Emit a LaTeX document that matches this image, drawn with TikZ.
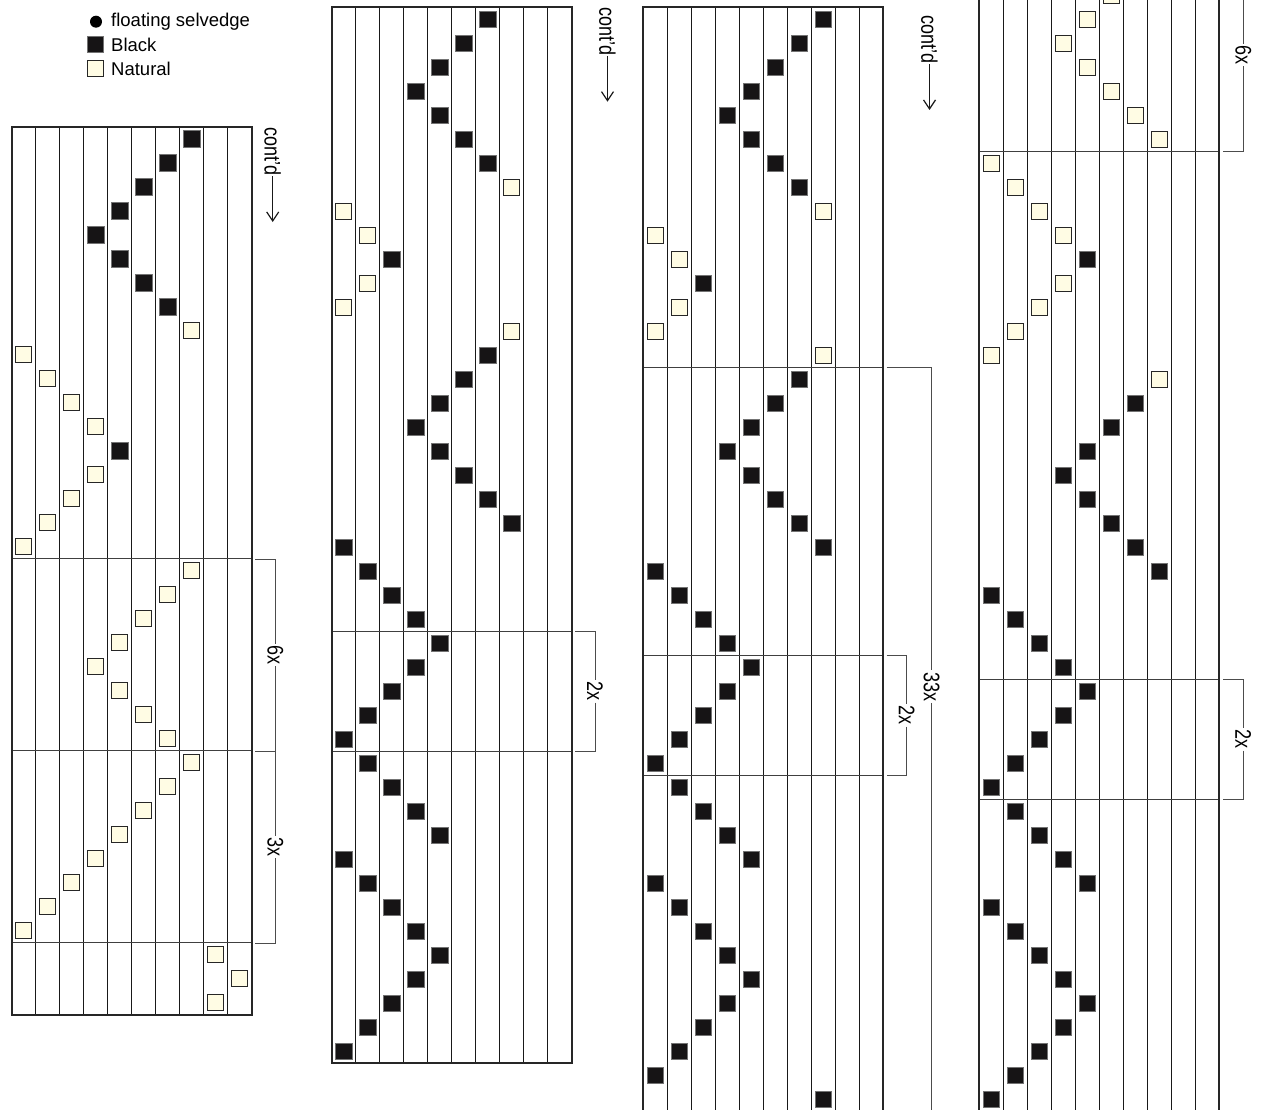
\documentclass[tikz,border=0pt]{standalone}
\usepackage{fontspec}
\setmainfont{Liberation Sans}
\usetikzlibrary{arrows.meta}
\definecolor{natfill}{RGB}{255,252,228}
\definecolor{blkfill}{RGB}{22,20,21}
\begin{document}
\begin{tikzpicture}[x=1pt,y=-1pt,
  sqb/.style={draw=black!55, fill=blkfill, line width=0.6pt, minimum size=16.5pt, inner sep=0pt},
  sqn/.style={draw=black!85, fill=natfill, line width=0.9pt, minimum size=16pt, inner sep=0pt},
  gridline/.style={line width=1.1pt, draw=black!90},
  frameline/.style={line width=2.2pt, draw=black!85},
  sepline/.style={line width=1pt, draw=black!75},
  brk/.style={line width=1pt, draw=black!70},
  lbl/.style={font=\fontsize{18}{18}\selectfont, rotate=-90, yscale=1.25, inner sep=1.5pt, fill=white},
  contd/.style={font=\fontsize{18}{18}\selectfont, rotate=-90, yscale=1.25, inner sep=0.5pt, anchor=west},
  arr/.style={line width=1.2pt, draw=black!90, -{Straight Barb[length=9pt,width=12pt,line width=1.2pt]}},
  legtext/.style={font=\fontsize{18.5}{18.5}\selectfont, anchor=base west, inner sep=0pt}
]
\useasboundingbox (0,0) rectangle (1263,1110);
\clip (0,0) rectangle (1263,1110);
\fill[white] (0,0) rectangle (1263,1110);

% ---------- legend ----------
\node[circle, fill=black, minimum size=12pt, inner sep=0pt] (legsel) at (96,21.7) {};
\node[legtext] (legselt) at (111,26.7) {floating selvedge};
\node[sqb] (legblk) at (95.3,44.5) {};
\node[legtext] (legblkt) at (111,51.2) {Black};
\node[sqn] (legnat) at (95.3,68.8) {};
\node[legtext] (legnatt) at (111,75.5) {Natural};

% ---------- panel 1 ----------
\begin{scope}[shift={(11.7,126.7)}]
  \foreach \i in {1,...,9} \draw[gridline] ({24*\i},0) -- ({24*\i},888.3);
  \foreach \r in {18,26,34} \draw[sepline] (0,{24*\r}) -- (240,{24*\r});
  \draw[frameline] (0,0) rectangle (240,888.3);
  \foreach \c/\r in {7/0,6/1,5/2,4/3,3/4,4/5,5/6,6/7,4/13}
    \node[sqb] (pA\r) at ({24*\c+12},{24*\r+12}) {};
  \foreach \c/\r in {7/8,0/9,1/10,2/11,3/12,3/14,2/15,1/16,0/17,7/18,6/19,5/20,4/21,3/22,4/23,5/24,6/25,7/26,6/27,5/28,4/29,3/30,2/31,1/32,0/33,8/34,9/35,8/36}
    \node[sqn] (pA\r) at ({24*\c+12},{24*\r+12}) {};
\end{scope}

% ---------- panel 2 ----------
\begin{scope}[shift={(331.7,7.3)}]
  \foreach \i in {1,...,9} \draw[gridline] ({24*\i},0) -- ({24*\i},1056);
  \foreach \r in {26,31} \draw[sepline] (0,{24*\r}) -- (240,{24*\r});
  \draw[frameline] (0,0) rectangle (240,1056);
  \foreach \c/\r in {6/0,5/1,4/2,3/3,4/4,5/5,6/6,2/10,6/14,5/15,4/16,3/17,4/18,5/19,6/20,7/21,0/22,1/23,2/24,3/25,4/26,3/27,2/28,1/29,0/30,1/31,2/32,3/33,4/34,0/35,1/36,2/37,3/38,4/39,3/40,2/41,1/42,0/43}
    \node[sqb] (pB\r) at ({24*\c+12},{24*\r+12}) {};
  \foreach \c/\r in {7/7,0/8,1/9,1/11,0/12,7/13}
    \node[sqn] (pB\r) at ({24*\c+12},{24*\r+12}) {};
\end{scope}

% ---------- panel 3 ----------
\begin{scope}[shift={(643.3,7.3)}]
  \foreach \i in {1,...,9} \draw[gridline] ({24*\i},0) -- ({24*\i},1110);
  \foreach \r in {15,27,32} \draw[sepline] (0,{24*\r}) -- (240,{24*\r});
  \draw[frameline] (0,1110) -- (0,0) -- (240,0) -- (240,1110);
  \foreach \c/\r in {7/0,6/1,5/2,4/3,3/4,4/5,5/6,6/7,2/11,6/15,5/16,4/17,3/18,4/19,5/20,6/21,7/22,0/23,1/24,2/25,3/26,4/27,3/28,2/29,1/30,0/31,1/32,2/33,3/34,4/35,0/36,1/37,2/38,3/39,4/40,3/41,2/42,1/43,0/44,7/45}
    \node[sqb] (pC\r) at ({24*\c+12},{24*\r+12}) {};
  \foreach \c/\r in {7/8,0/9,1/10,1/12,0/13,7/14}
    \node[sqn] (pC\r) at ({24*\c+12},{24*\r+12}) {};
\end{scope}

% ---------- panel 4 ----------
\begin{scope}[shift={(979.3,151.3)}]
  \foreach \i in {1,...,9} \draw[gridline] ({24*\i},-160) -- ({24*\i},970);
  \foreach \r in {0,22,27} \draw[sepline] (0,{24*\r}) -- (240,{24*\r});
  \draw[frameline] (0,-160) -- (0,970);
  \draw[frameline] (240,-160) -- (240,970);
  \foreach \c/\r in {4/4,6/10,5/11,4/12,3/13,4/14,5/15,6/16,7/17,0/18,1/19,2/20,3/21,4/22,3/23,2/24,1/25,0/26,1/27,2/28,3/29,4/30,0/31,1/32,2/33,3/34,4/35,3/36,2/37,1/38,0/39}
    \node[sqb] (pD\r) at ({24*\c+12},{24*\r+12}) {};
  \foreach \c/\r in {5/-7,4/-6,3/-5,4/-4,5/-3,6/-2,7/-1,0/0,1/1,2/2,3/3,3/5,2/6,1/7,0/8,7/9}
    \node[sqn] (pD\r) at ({24*\c+12},{24*\r+12}) {};
\end{scope}

% ---------- cont'd arrows ----------
\node[contd] (cA) at (272.7,127) {cont’d};
\coordinate (cAe) at (272.7,222);
\draw[arr] (cA.east) -- (cAe);
\node[contd] (cB) at (607.5,6.5) {cont’d};
\coordinate (cBe) at (607.5,101.7);
\draw[arr] (cB.east) -- (cBe);
\node[contd] (cC) at (929.5,15) {cont’d};
\coordinate (cCe) at (929.5,110);
\draw[arr] (cC.east) -- (cCe);

% ---------- brackets panel 1 ----------
\coordinate (a1) at (255.3,559.3); \coordinate (a1c) at (275.3,559.3);
\coordinate (a2) at (255.3,751.3); \coordinate (a2c) at (275.3,751.3);
\coordinate (a3) at (255.3,943.3); \coordinate (a3c) at (275.3,943.3);
\node[lbl] (LA6) at (275.3,655) {6x};
\node[lbl] (LA3) at (275.3,847) {3x};
\draw[brk] (a1) -- (a1c) -- (LA6.west);
\draw[brk] (LA6.east) -- (LA3.west);
\draw[brk] (a2) -- (a2c);
\draw[brk] (LA3.east) -- (a3c) -- (a3);

% ---------- bracket panel 2 ----------
\coordinate (b1) at (575,631.3); \coordinate (b1c) at (595,631.3);
\coordinate (b2) at (575,751.3); \coordinate (b2c) at (595,751.3);
\node[lbl] (LB2) at (595,691.3) {2x};
\draw[brk] (b1) -- (b1c) -- (LB2.west);
\draw[brk] (LB2.east) -- (b2c) -- (b2);

% ---------- brackets panel 3 ----------
\coordinate (c1) at (886.7,655.3); \coordinate (c1c) at (906.7,655.3);
\coordinate (c2) at (886.7,775.3); \coordinate (c2c) at (906.7,775.3);
\node[lbl] (LC2) at (906.7,715.3) {2x};
\draw[brk] (c1) -- (c1c) -- (LC2.west);
\draw[brk] (LC2.east) -- (c2c) -- (c2);
\coordinate (c3) at (886.7,367.3); \coordinate (c3c) at (931.7,367.3);
\coordinate (c3e) at (931.7,1115);
\node[lbl] (LC33) at (931.7,686.7) {33x};
\draw[brk] (c3) -- (c3c) -- (LC33.west);
\draw[brk] (LC33.east) -- (c3e);

% ---------- brackets panel 4 ----------
\coordinate (d0) at (1243.3,-5);
\coordinate (d1) at (1223.3,151.3); \coordinate (d1c) at (1243.3,151.3);
\node[lbl] (LD6) at (1243.3,55) {6x};
\draw[brk] (d0) -- (LD6.west);
\draw[brk] (LD6.east) -- (d1c) -- (d1);
\coordinate (d2) at (1223.3,679.3); \coordinate (d2c) at (1243.3,679.3);
\coordinate (d3) at (1223.3,799.3); \coordinate (d3c) at (1243.3,799.3);
\node[lbl] (LD2) at (1243.3,739.3) {2x};
\draw[brk] (d2) -- (d2c) -- (LD2.west);
\draw[brk] (LD2.east) -- (d3c) -- (d3);
\end{tikzpicture}
\end{document}
